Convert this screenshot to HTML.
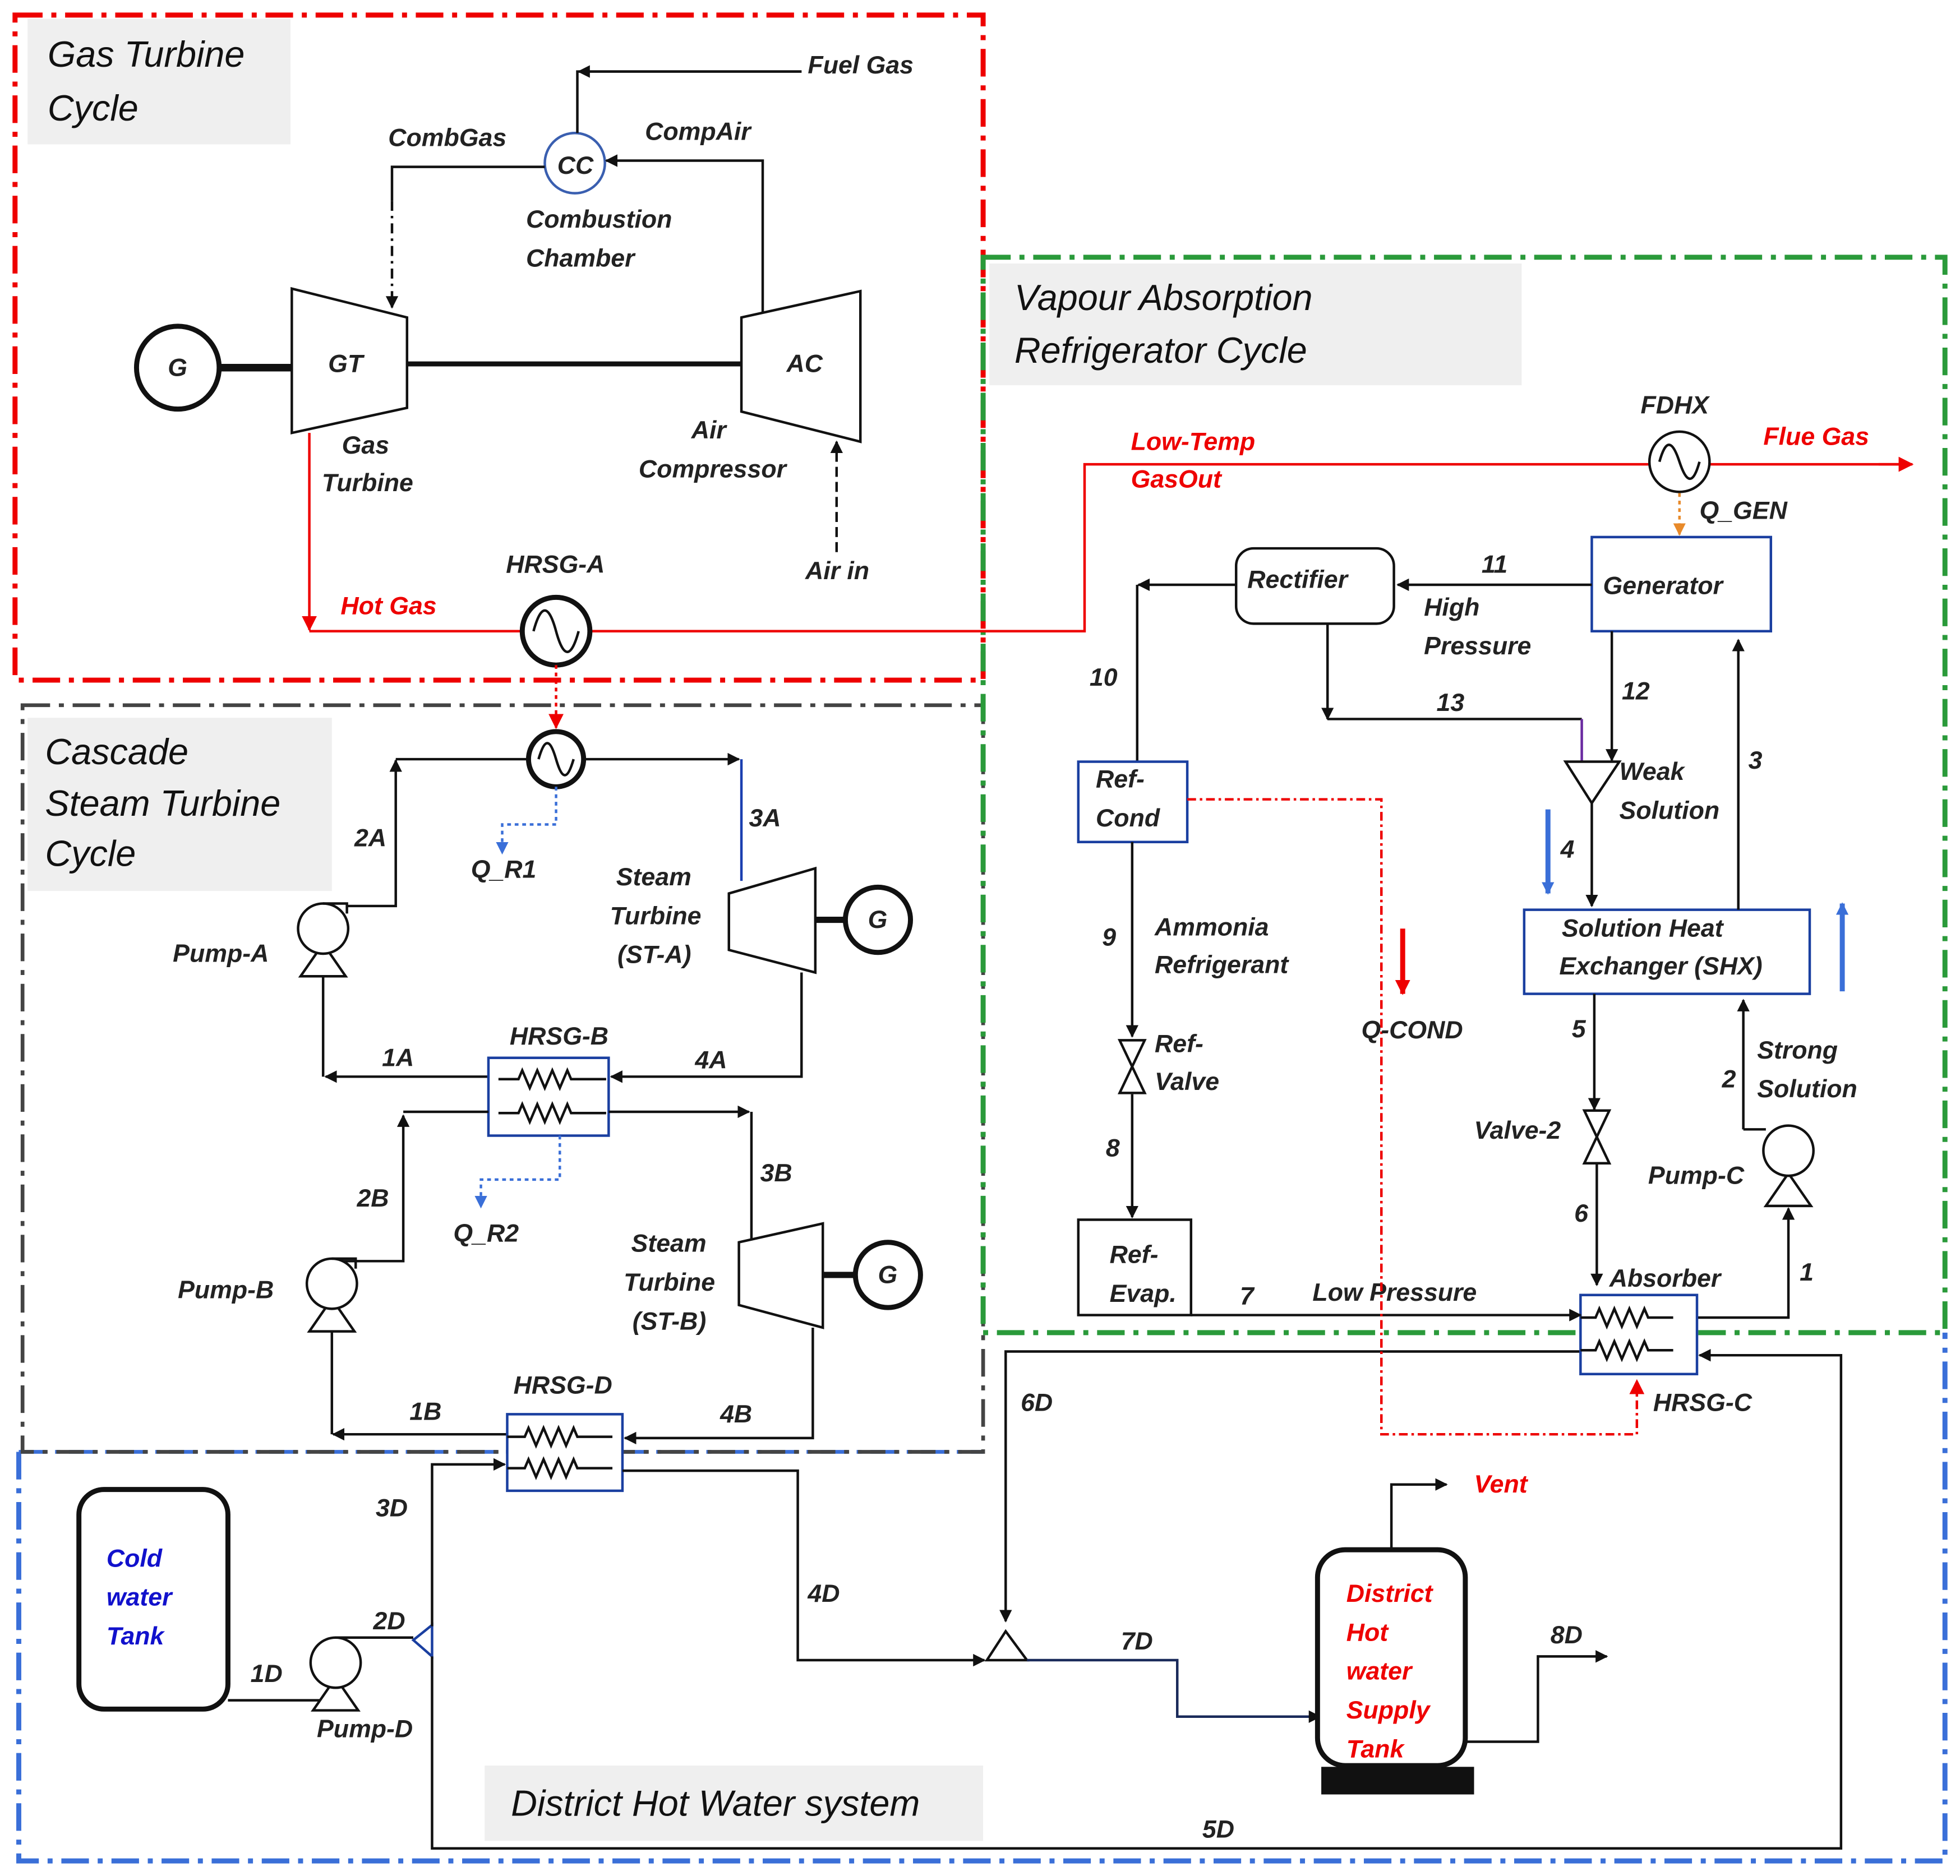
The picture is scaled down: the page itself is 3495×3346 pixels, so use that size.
<!DOCTYPE html>
<html><head><meta charset="utf-8"><style>
html,body{margin:0;padding:0;background:#fff}
svg{display:block}
text{font-family:"Liberation Sans",sans-serif;font-style:italic;font-weight:bold;font-size:20px;fill:#222;dominant-baseline:central}
.t{font-size:29px;font-weight:normal;fill:#111}
.r{fill:#e00}
.b{fill:#11c}
.k{stroke:#111;stroke-width:2;fill:none}
</style></head><body>
<svg width="3495" height="3346" viewBox="0 0 1565 1495" preserveAspectRatio="none" xmlns="http://www.w3.org/2000/svg">
<defs>
<marker id="a" markerWidth="10" markerHeight="10" refX="9" refY="5" orient="auto" markerUnits="userSpaceOnUse"><path d="M0 0 L10 5 L0 10 z" fill="#111"/></marker>
<marker id="ar" markerWidth="12" markerHeight="12" refX="11" refY="6" orient="auto" markerUnits="userSpaceOnUse"><path d="M0 0 L12 6 L0 12 z" fill="#e00"/></marker>
<marker id="ab" markerWidth="10" markerHeight="10" refX="9" refY="5" orient="auto" markerUnits="userSpaceOnUse"><path d="M0 0 L10 5 L0 10 z" fill="#3a6fd8"/></marker>
<marker id="ao" markerWidth="10" markerHeight="10" refX="9" refY="5" orient="auto" markerUnits="userSpaceOnUse"><path d="M0 0 L10 5 L0 10 z" fill="#e88a2a"/></marker>
</defs>

<!-- title boxes -->
<rect x="22" y="15" width="210" height="100" fill="#efefef"/>
<rect x="790" y="210" width="425" height="97" fill="#efefef"/>
<rect x="22" y="572" width="243" height="138" fill="#efefef"/>
<rect x="387" y="1407" width="398" height="60" fill="#efefef"/>
<text class="t" x="38" y="43">Gas Turbine</text>
<text class="t" x="38" y="86">Cycle</text>
<text class="t" x="810" y="237">Vapour Absorption</text>
<text class="t" x="810" y="279">Refrigerator Cycle</text>
<text class="t" x="36" y="599">Cascade</text>
<text class="t" x="36" y="640">Steam Turbine</text>
<text class="t" x="36" y="680">Cycle</text>
<text class="t" x="408" y="1437">District Hot Water system</text>

<!-- region borders -->
<rect x="12" y="12" width="773" height="530" fill="none" stroke="#e00" stroke-width="4" stroke-dasharray="22 7 4 7"/>
<path d="M15 1157 V1483 H1553 V1062" fill="none" stroke="#3a6fd8" stroke-width="4" stroke-dasharray="22 7 4 7"/>
<path d="M15 1157 H785" fill="none" stroke="#3a6fd8" stroke-width="3" stroke-dasharray="22 7 4 7"/>
<rect x="18" y="562" width="767" height="595" fill="none" stroke="#444" stroke-width="3" stroke-dasharray="22 7 4 7"/>
<rect x="785" y="205" width="768" height="857" fill="none" stroke="#2a9a3a" stroke-width="4" stroke-dasharray="22 7 4 7"/>

<!-- Gas turbine cycle -->
<circle cx="142" cy="293" r="33" fill="#fff" stroke="#111" stroke-width="4"/>
<text x="134" y="293">G</text>
<line x1="175" y1="293" x2="233" y2="293" stroke="#111" stroke-width="6"/>
<path d="M233 230 L325 253 L325 325 L233 345 z" fill="#fff" stroke="#111" stroke-width="2"/>
<text x="262" y="290">GT</text>
<line x1="325" y1="290" x2="592" y2="290" stroke="#111" stroke-width="4"/>
<path d="M592 253 L687 232 L687 352 L592 328 z" fill="#fff" stroke="#111" stroke-width="2"/>
<text x="628" y="290">AC</text>
<circle cx="459" cy="130" r="24" fill="#fff" stroke="#3a5fb0" stroke-width="2"/>
<text x="445" y="132">CC</text>
<path class="k" d="M640 57 H461 V106" marker-start="url(#a)" style="marker-start:none"/>
<path class="k" d="M640 57 H462" marker-end="url(#a)"/>
<text x="645" y="52">Fuel Gas</text>
<path class="k" d="M609 250 V128 H484" marker-end="url(#a)"/>
<text x="515" y="105">CompAir</text>
<path class="k" d="M435 133 H313 V160"/>
<path class="k" d="M313 160 V245" stroke-dasharray="8 4 2 4" marker-end="url(#a)"/>
<text x="310" y="110">CombGas</text>
<text x="420" y="175">Combustion</text>
<text x="420" y="206">Chamber</text>
<text x="273" y="355">Gas</text>
<text x="257" y="385">Turbine</text>
<text x="552" y="343">Air</text>
<text x="510" y="374">Compressor</text>
<path class="k" d="M668 440 V352" stroke-dasharray="8 4" marker-end="url(#a)"/>
<text x="643" y="455">Air in</text>
<path d="M247 345 V502" fill="none" stroke="#e00" stroke-width="2" marker-end="url(#ar)"/>
<path d="M247 503 H416 M472 503 H866 V370 H1317 M1365 370 H1525" fill="none" stroke="#e00" stroke-width="2"/>
<path d="M1500 370 H1527" fill="none" stroke="#e00" stroke-width="2" marker-end="url(#ar)"/>
<text class="r" x="272" y="483">Hot Gas</text>
<circle cx="444" cy="503" r="27" fill="#fff" stroke="#111" stroke-width="4"/>
<path d="M426 503 c6 -22 12 -22 18 0 s12 22 18 0" class="k"/>
<text x="404" y="450">HRSG-A</text>
<text class="r" x="903" y="352">Low-Temp</text>
<text class="r" x="903" y="382">GasOut</text>
<circle cx="1341" cy="368" r="24" fill="#fff" stroke="#111" stroke-width="2"/>
<path d="M1325 368 c5 -18 10 -18 16 0 s11 18 16 0" class="k"/>
<text x="1310" y="323">FDHX</text>
<text class="r" x="1408" y="348">Flue Gas</text>
<path d="M1341 393 V426" fill="none" stroke="#e88a2a" stroke-width="2" stroke-dasharray="3 3" marker-end="url(#ao)"/>
<text x="1357" y="407">Q_GEN</text>

<!-- Cascade -->
<path d="M444 530 V580" fill="none" stroke="#e00" stroke-width="2" stroke-dasharray="3 3" marker-end="url(#ar)"/>
<circle cx="444" cy="605" r="22" fill="#fff" stroke="#111" stroke-width="4"/>
<path d="M430 605 c5 -17 9 -17 14 0 s9 17 14 0" class="k"/>
<path class="k" d="M277 722 H316 V606" marker-end="url(#a)"/>
<path class="k" d="M316 605 H422 M466 605 H590" marker-end="url(#a)"/>
<path d="M592 605 V702" stroke="#1a3fb0" stroke-width="2" fill="none"/>
<text x="598" y="652">3A</text>
<text x="283" y="668">2A</text>
<path d="M444 627 V657 H401 V680" fill="none" stroke="#3a6fd8" stroke-width="2" stroke-dasharray="3 3" marker-end="url(#ab)"/>
<text x="376" y="693">Q_R1</text>
<path d="M582 712 L651 692 L651 775 L582 757 z" fill="#fff" stroke="#111" stroke-width="2"/>
<line x1="651" y1="733" x2="676" y2="733" stroke="#111" stroke-width="5"/>
<circle cx="701" cy="733" r="26" fill="#fff" stroke="#111" stroke-width="4"/>
<text x="693" y="733">G</text>
<text x="492" y="699">Steam</text>
<text x="487" y="730">Turbine</text>
<text x="493" y="761">(ST-A)</text>
<!-- pump A -->
<path d="M240 778 L258 752 L276 778 z" fill="#fff" stroke="#111" stroke-width="2"/>
<circle cx="258" cy="740" r="20" fill="#fff" stroke="#111" stroke-width="2"/>
<path class="k" d="M258 720 H277 V728"/>
<text x="138" y="760">Pump-A</text>
<path class="k" d="M390 858 H260" marker-end="url(#a)"/>
<path class="k" d="M258 858 V778"/>
<text x="305" y="843">1A</text>
<path class="k" d="M640 775 V858 H488" marker-end="url(#a)"/>
<text x="555" y="845">4A</text>
<rect x="390" y="843" width="96" height="62" fill="#fff" stroke="#1a3fa0" stroke-width="2"/>
<path class="k" d="M398 860 h16 l3 -7 l6 14 l6 -14 l6 14 l6 -14 l6 14 l6 -14 l3 7 h28"/>
<path class="k" d="M398 887 h16 l3 -7 l6 14 l6 -14 l6 14 l6 -14 l6 14 l6 -14 l3 7 h28"/>
<text x="407" y="826">HRSG-B</text>
<path class="k" d="M265 1005 H322 V889" marker-end="url(#a)"/>
<path class="k" d="M322 886 H390 M486 886 H598" marker-end="url(#a)"/>
<path class="k" d="M600 886 V990"/>
<text x="607" y="935">3B</text>
<text x="285" y="955">2B</text>
<path d="M447 905 V940 H384 V962" fill="none" stroke="#3a6fd8" stroke-width="2" stroke-dasharray="3 3" marker-end="url(#ab)"/>
<text x="362" y="983">Q_R2</text>
<path d="M590 990 L657 975 L657 1058 L590 1040 z" fill="#fff" stroke="#111" stroke-width="2"/>
<line x1="657" y1="1016" x2="684" y2="1016" stroke="#111" stroke-width="5"/>
<circle cx="709" cy="1016" r="26" fill="#fff" stroke="#111" stroke-width="4"/>
<text x="701" y="1016">G</text>
<text x="504" y="991">Steam</text>
<text x="498" y="1022">Turbine</text>
<text x="505" y="1053">(ST-B)</text>
<path d="M247 1061 L265 1035 L283 1061 z" fill="#fff" stroke="#111" stroke-width="2"/>
<circle cx="265" cy="1023" r="20" fill="#fff" stroke="#111" stroke-width="2"/>
<path class="k" d="M265 1003 H284 V1011"/>
<text x="142" y="1028">Pump-B</text>
<path class="k" d="M265 1061 V1143"/>
<path class="k" d="M405 1143 H266" marker-end="url(#a)"/>
<text x="327" y="1125">1B</text>
<path class="k" d="M649 1058 V1146 H499" marker-end="url(#a)"/>
<text x="575" y="1127">4B</text>
<rect x="405" y="1127" width="92" height="61" fill="#fff" stroke="#1a3fa0" stroke-width="2"/>
<path class="k" d="M405 1145 h14 l3 -7 l6 14 l6 -14 l6 14 l6 -14 l6 14 l6 -14 l3 7 h28"/>
<path class="k" d="M405 1170 h14 l3 -7 l6 14 l6 -14 l6 14 l6 -14 l6 14 l6 -14 l3 7 h28"/>
<text x="410" y="1104">HRSG-D</text>

<!-- District -->
<rect x="63" y="1187" width="119" height="175" rx="20" fill="#fff" stroke="#111" stroke-width="4"/>
<text class="b" x="85" y="1242">Cold</text>
<text class="b" x="85" y="1273">water</text>
<text class="b" x="85" y="1304">Tank</text>
<path class="k" d="M182 1355 H258"/>
<text x="200" y="1334">1D</text>
<path d="M250 1363 L268 1337 L286 1363 z" fill="#fff" stroke="#111" stroke-width="2"/>
<circle cx="268" cy="1325" r="20" fill="#fff" stroke="#111" stroke-width="2"/>
<path class="k" d="M268 1305 H330"/>
<text x="253" y="1378">Pump-D</text>
<text x="298" y="1292">2D</text>
<path d="M330 1307 L345 1295 L345 1320 z" fill="#fff" stroke="#1a3fa0" stroke-width="2"/>
<path class="k" d="M345 1296 V1167 H403" marker-end="url(#a)"/>
<text x="300" y="1202">3D</text>
<path class="k" d="M345 1320 V1473 H1470 V1080 H1357" marker-end="url(#a)"/>
<text x="960" y="1458">5D</text>
<path class="k" d="M497 1172 H637 V1323 H786" marker-end="url(#a)"/>
<text x="645" y="1270">4D</text>
<path d="M788 1323 L803 1300 L820 1323 z" fill="#fff" stroke="#111" stroke-width="2"/>
<path class="k" d="M1262 1077 H803 V1292" marker-end="url(#a)"/>
<text x="815" y="1118">6D</text>
<path d="M820 1323 H940 V1368 H1054" fill="none" stroke="#1a2a5a" stroke-width="2" marker-end="url(#a)"/>
<text x="895" y="1308">7D</text>
<rect x="1052" y="1235" width="118" height="172" rx="22" fill="#fff" stroke="#111" stroke-width="4"/>
<rect x="1055" y="1408" width="122" height="22" fill="#111"/>
<text class="r" x="1075" y="1270">District</text>
<text class="r" x="1075" y="1301">Hot</text>
<text class="r" x="1075" y="1332">water</text>
<text class="r" x="1075" y="1363">Supply</text>
<text class="r" x="1075" y="1394">Tank</text>
<path class="k" d="M1111 1235 V1183 H1155" marker-end="url(#a)"/>
<text class="r" x="1177" y="1183">Vent</text>
<path class="k" d="M1170 1388 H1228 V1320 H1283" marker-end="url(#a)"/>
<text x="1238" y="1303">8D</text>

<!-- VAR cycle -->
<rect x="1271" y="428" width="143" height="75" fill="#fff" stroke="#1a3fa0" stroke-width="2"/>
<text x="1280" y="467">Generator</text>
<path class="k" d="M1271 466 H1116" marker-end="url(#a)"/>
<text x="1183" y="450">11</text>
<text x="1137" y="484">High</text>
<text x="1137" y="515">Pressure</text>
<rect x="987" y="437" width="126" height="60" rx="14" fill="#fff" stroke="#111" stroke-width="2"/>
<text x="996" y="462">Rectifier</text>
<path class="k" d="M987 466 H909" marker-end="url(#a)"/>
<path class="k" d="M908 466 V608"/>
<text x="870" y="540">10</text>
<path class="k" d="M1060 497 V573" marker-end="url(#a)"/>
<path class="k" d="M1060 573 H1263"/>
<path d="M1263 573 V607" stroke="#6a2aa0" stroke-width="2"/>
<text x="1147" y="560">13</text>
<path class="k" d="M1287 503 V606" marker-end="url(#a)"/>
<text x="1295" y="551">12</text>
<path d="M1250 607 L1293 607 L1271 640 z" fill="#fff" stroke="#111" stroke-width="2"/>
<text x="1293" y="615">Weak</text>
<text x="1293" y="646">Solution</text>
<path class="k" d="M1271 640 V722" marker-end="url(#a)"/>
<text x="1246" y="677">4</text>
<path d="M1236 645 V712" stroke="#3a6fd8" stroke-width="4" marker-end="url(#ab)"/>
<rect x="1217" y="725" width="228" height="67" fill="#fff" stroke="#1a3fa0" stroke-width="2"/>
<text x="1247" y="740">Solution Heat</text>
<text x="1245" y="770">Exchanger (SHX)</text>
<path class="k" d="M1388 725 V510" marker-end="url(#a)"/>
<text x="1396" y="606">3</text>
<path d="M1471 790 V720" stroke="#3a6fd8" stroke-width="4" marker-end="url(#ab)"/>
<path class="k" d="M1273 792 V884" marker-end="url(#a)"/>
<text x="1255" y="820">5</text>
<path d="M1265 885 L1285 885 L1265 927 L1285 927 z" fill="#fff" stroke="#111" stroke-width="2"/>
<text x="1177" y="901">Valve-2</text>
<path class="k" d="M1275 927 V1024" marker-end="url(#a)"/>
<text x="1257" y="967">6</text>
<path class="k" d="M1392 900 H1410 M1392 900 V797" marker-end="url(#a)"/>
<text x="1375" y="860">2</text>
<text x="1403" y="837">Strong</text>
<text x="1403" y="868">Solution</text>
<path d="M1410 961 L1428 935 L1446 961 z" fill="#fff" stroke="#111" stroke-width="2"/>
<circle cx="1428" cy="917" r="20" fill="#fff" stroke="#111" stroke-width="2"/>
<text x="1316" y="937">Pump-C</text>
<path class="k" d="M1355 1050 H1428 V963" marker-end="url(#a)"/>
<text x="1437" y="1014">1</text>
<rect x="1262" y="1032" width="93" height="63" fill="#fff" stroke="#1a3fa0" stroke-width="2"/>
<path class="k" d="M1262 1050 h12 l3 -7 l6 14 l6 -14 l6 14 l6 -14 l6 14 l6 -14 l3 7 h20"/>
<path class="k" d="M1262 1076 h12 l3 -7 l6 14 l6 -14 l6 14 l6 -14 l6 14 l6 -14 l3 7 h20"/>
<text x="1285" y="1019">Absorber</text>
<text x="1320" y="1118">HRSG-C</text>
<path class="k" d="M951 1048 H1262" marker-end="url(#a)"/>
<text x="990" y="1033">7</text>
<text x="1048" y="1030">Low Pressure</text>
<rect x="861" y="607" width="87" height="64" fill="#fff" stroke="#1a3fa0" stroke-width="2"/>
<text x="875" y="621">Ref-</text>
<text x="875" y="652">Cond</text>
<path class="k" d="M904 671 V826" marker-end="url(#a)"/>
<text x="880" y="747">9</text>
<text x="922" y="739">Ammonia</text>
<text x="922" y="769">Refrigerant</text>
<path d="M894 829 L914 829 L894 871 L914 871 z" fill="#fff" stroke="#111" stroke-width="2"/>
<text x="922" y="832">Ref-</text>
<text x="922" y="862">Valve</text>
<path class="k" d="M904 872 V970" marker-end="url(#a)"/>
<text x="883" y="915">8</text>
<rect x="861" y="972" width="90" height="76" fill="#fff" stroke="#111" stroke-width="2"/>
<text x="886" y="1000">Ref-</text>
<text x="886" y="1031">Evap.</text>
<path d="M948 637 H1103 V1143 H1307 V1100" fill="none" stroke="#e00" stroke-width="2" stroke-dasharray="7 3 2 3" marker-end="url(#ar)"/>
<path d="M1120 740 V792" stroke="#e00" stroke-width="4" marker-end="url(#ar)"/>
<text x="1087" y="821">Q-COND</text>
</svg>
</body></html>
